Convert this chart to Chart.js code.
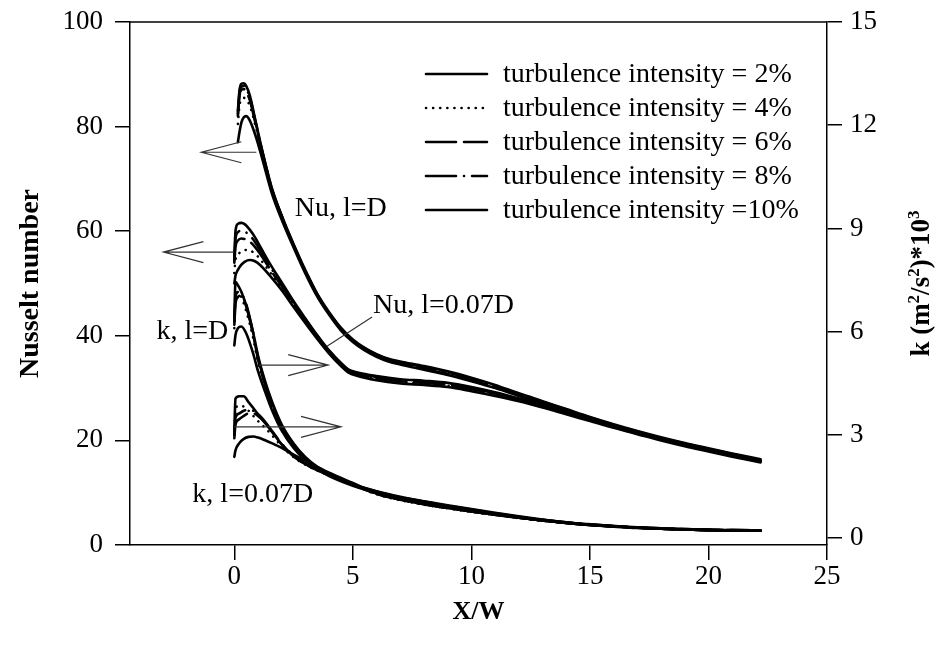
<!DOCTYPE html>
<html>
<head>
<meta charset="utf-8">
<script src="https://cdn.jsdelivr.net/npm/chart.js@4/dist/chart.umd.min.js"></script>
<style>
  html, body { margin: 0; padding: 0; background: #fff; }
  #wrap { width: 939px; height: 646px; }
</style>
</head>
<body>
<div id="wrap"><canvas id="c" width="939" height="646"></canvas></div>
<script>
// Turbulence intensities (one line style each)
const intensities = ['2%', '4%', '6%', '8%', '10%'];

// Nusselt number, l = D
const xNuD = [0.15, 0.22, 0.3, 0.4, 0.5, 0.65, 0.9, 1.2, 1.6, 2.0, 2.5, 3.0, 3.5, 4.0, 4.5, 5.0, 5.5, 6.0, 6.5, 7.0, 8.0, 9.0, 10, 11, 12, 13, 14, 15, 16, 17, 18, 19, 20, 21, 22.2];
const nuD2  = [77.0, 79.0, 80.8, 81.8, 82.0, 81.2, 78.2, 73.5, 67.0, 62.2, 56.9, 51.9, 47.5, 44.0, 41.0, 38.8, 37.2, 36.0, 35.1, 34.5, 33.5, 32.5, 31.3, 30.0, 28.5, 27.0, 25.6, 24.1, 22.7, 21.4, 20.2, 19.1, 18.1, 17.1, 16.0];
const nuD4  = [80.5, 84.0, 85.2, 85.5, 85.2, 84.0, 80.0, 74.4, 67.6, 62.6, 57.2, 52.2, 47.7, 44.2, 41.2, 39.0, 37.4, 36.2, 35.3, 34.7, 33.6, 32.6, 31.4, 30.1, 28.6, 27.1, 25.7, 24.2, 22.8, 21.5, 20.3, 19.2, 18.2, 17.2, 16.1];
const nuD6  = [82.0, 86.0, 87.0, 87.2, 86.7, 85.1, 80.5, 74.7, 67.8, 62.8, 57.3, 52.3, 47.8, 44.3, 41.3, 39.1, 37.5, 36.3, 35.4, 34.8, 33.7, 32.7, 31.5, 30.2, 28.7, 27.2, 25.8, 24.3, 22.9, 21.6, 20.4, 19.3, 18.3, 17.3, 16.2];
const nuD8  = [82.5, 86.5, 87.6, 87.8, 87.3, 85.6, 80.8, 74.9, 67.9, 62.9, 57.4, 52.4, 47.9, 44.4, 41.4, 39.2, 37.6, 36.4, 35.5, 35.0, 34.0, 33.0, 31.8, 30.4, 28.9, 27.4, 25.9, 24.4, 23.0, 21.7, 20.5, 19.4, 18.4, 17.4, 16.3];
const nuD10 = [83.0, 87.0, 88.2, 88.3, 87.8, 86.0, 81.0, 75.0, 68.0, 63.0, 57.5, 52.5, 48.0, 44.5, 41.5, 39.3, 37.7, 36.5, 35.6, 35.1, 34.2, 33.2, 32.0, 30.6, 29.0, 27.5, 26.0, 24.5, 23.1, 21.8, 20.6, 19.5, 18.5, 17.5, 16.4];

// Nusselt number, l = 0.07D
const xNu007 = [0, 0.05, 0.15, 0.3, 0.45, 0.65, 0.85, 1.1, 1.5, 2.0, 2.5, 3.0, 3.5, 4.0, 4.5, 4.8, 5.2, 6.0, 7.0, 8.0, 9.0, 10, 11, 12, 13, 14, 15, 16, 17, 18, 19, 20, 21, 22.2];
const nu007_2  = [50.0, 51.5, 52.6, 53.6, 54.2, 54.5, 54.3, 53.5, 51.5, 48.7, 45.5, 42.4, 39.4, 36.6, 34.2, 33.0, 32.3, 31.5, 30.9, 30.6, 30.2, 29.4, 28.5, 27.5, 26.3, 25.0, 23.7, 22.4, 21.2, 20.0, 18.9, 17.9, 16.9, 15.8];
const nu007_4  = [52.0, 54.5, 55.5, 56.1, 56.4, 56.3, 55.8, 54.6, 52.2, 49.1, 45.8, 42.7, 39.6, 36.8, 34.4, 33.2, 32.5, 31.7, 31.1, 30.8, 30.4, 29.6, 28.7, 27.6, 26.4, 25.1, 23.8, 22.5, 21.3, 20.1, 19.0, 18.0, 17.0, 15.9];
const nu007_6  = [54.0, 57.0, 58.2, 58.6, 58.5, 58.0, 57.1, 55.6, 52.8, 49.5, 46.1, 42.9, 39.8, 37.0, 34.6, 33.4, 32.7, 31.9, 31.3, 31.0, 30.6, 29.8, 28.9, 27.8, 26.5, 25.2, 23.9, 22.6, 21.4, 20.2, 19.1, 18.1, 17.1, 16.0];
const nu007_8  = [54.5, 58.5, 59.8, 60.1, 59.9, 59.2, 58.1, 56.3, 53.3, 49.9, 46.4, 43.1, 40.0, 37.1, 34.7, 33.5, 32.9, 32.1, 31.5, 31.2, 30.8, 30.0, 29.0, 27.9, 26.6, 25.3, 24.0, 22.7, 21.5, 20.3, 19.2, 18.2, 17.2, 16.1];
const nu007_10 = [55.0, 60.0, 61.4, 61.6, 61.3, 60.3, 59.0, 57.0, 53.8, 50.2, 46.6, 43.3, 40.1, 37.2, 34.8, 33.6, 33.0, 32.3, 31.7, 31.4, 31.0, 30.2, 29.2, 28.0, 26.7, 25.4, 24.1, 22.8, 21.6, 20.4, 19.3, 18.3, 17.3, 16.2];

// Turbulent kinetic energy k (x10^3), l = D
const xKD = [0, 0.05, 0.15, 0.3, 0.5, 0.8, 1.0, 1.3, 1.6, 2.0, 2.5, 3.0, 3.5, 4.0, 5.0, 6.0, 7.0, 8.0, 9.0, 10, 11, 12, 13, 14, 15, 16, 17, 18, 19, 20, 21, 22.2];
const kD2  = [5.6, 5.9, 6.1, 6.15, 5.95, 5.35, 4.85, 4.25, 3.7, 3.12, 2.62, 2.26, 2.0, 1.8, 1.52, 1.31, 1.15, 1.02, 0.9, 0.8, 0.69, 0.6, 0.51, 0.44, 0.38, 0.33, 0.29, 0.27, 0.25, 0.23, 0.22, 0.21];
const kD4  = [6.1, 6.9, 7.15, 7.0, 6.6, 5.8, 5.1, 4.4, 3.8, 3.2, 2.68, 2.3, 2.03, 1.83, 1.54, 1.33, 1.17, 1.04, 0.92, 0.81, 0.7, 0.61, 0.52, 0.45, 0.39, 0.34, 0.3, 0.27, 0.25, 0.23, 0.22, 0.21];
const kD6  = [6.2, 6.8, 7.0, 7.05, 6.75, 5.9, 5.2, 4.45, 3.85, 3.24, 2.71, 2.32, 2.05, 1.84, 1.55, 1.34, 1.18, 1.05, 0.93, 0.82, 0.71, 0.61, 0.53, 0.45, 0.39, 0.34, 0.3, 0.27, 0.25, 0.24, 0.23, 0.22];
const kD8  = [6.3, 7.0, 7.15, 7.1, 6.8, 5.95, 5.25, 4.5, 3.9, 3.27, 2.73, 2.33, 2.06, 1.85, 1.56, 1.35, 1.19, 1.06, 0.94, 0.83, 0.72, 0.62, 0.53, 0.46, 0.4, 0.35, 0.31, 0.28, 0.26, 0.24, 0.23, 0.22];
const kD10 = [6.4, 7.45, 7.35, 7.15, 6.75, 5.95, 5.3, 4.55, 3.95, 3.3, 2.75, 2.35, 2.07, 1.86, 1.57, 1.36, 1.2, 1.07, 0.95, 0.84, 0.73, 0.63, 0.54, 0.46, 0.4, 0.35, 0.31, 0.28, 0.26, 0.24, 0.23, 0.22];

// Turbulent kinetic energy k (x10^3), l = 0.07D
const xK007 = [0, 0.05, 0.2, 0.4, 0.6, 0.8, 1.0, 1.3, 1.6, 2.0, 2.5, 3.0, 3.5, 4.0, 5.0, 6.0, 7.0, 8.0, 9.0, 10, 11, 12, 13, 14, 15, 16, 17, 18, 19, 20, 21, 22.2];
const k007_2  = [2.36, 2.55, 2.75, 2.88, 2.94, 2.95, 2.92, 2.84, 2.75, 2.62, 2.42, 2.25, 2.07, 1.9, 1.6, 1.3, 1.12, 0.98, 0.87, 0.77, 0.68, 0.59, 0.51, 0.44, 0.38, 0.34, 0.3, 0.27, 0.25, 0.23, 0.22, 0.21];
const k007_4  = [3.0, 3.75, 3.85, 3.82, 3.7, 3.55, 3.4, 3.2, 2.98, 2.67, 2.35, 2.13, 1.96, 1.82, 1.55, 1.27, 1.1, 0.97, 0.86, 0.76, 0.67, 0.58, 0.5, 0.44, 0.38, 0.34, 0.3, 0.27, 0.25, 0.23, 0.22, 0.21];
const k007_6  = [2.9, 3.3, 3.45, 3.55, 3.62, 3.62, 3.55, 3.35, 3.08, 2.72, 2.38, 2.15, 1.97, 1.83, 1.56, 1.28, 1.11, 0.98, 0.87, 0.77, 0.68, 0.59, 0.51, 0.44, 0.38, 0.34, 0.3, 0.27, 0.25, 0.23, 0.22, 0.21];
const k007_8  = [3.0, 3.5, 3.62, 3.7, 3.72, 3.7, 3.6, 3.38, 3.1, 2.74, 2.4, 2.16, 1.98, 1.84, 1.57, 1.29, 1.12, 0.99, 0.88, 0.78, 0.68, 0.59, 0.51, 0.44, 0.38, 0.34, 0.3, 0.27, 0.25, 0.23, 0.22, 0.21];
const k007_10 = [3.1, 4.05, 4.12, 4.12, 3.95, 3.78, 3.6, 3.35, 3.08, 2.72, 2.38, 2.15, 1.98, 1.84, 1.58, 1.3, 1.13, 1.0, 0.88, 0.78, 0.68, 0.59, 0.51, 0.44, 0.38, 0.34, 0.3, 0.27, 0.25, 0.23, 0.22, 0.21];

// Axis ticks
const xTicks = [0, 5, 10, 15, 20, 25];
const nuTicks = [0, 20, 40, 60, 80, 100];
const kTicks = [0, 3, 6, 9, 12, 15];

// Curve labels (x, Nu-axis position) and the arrows pointing to their axis
const curveLabels = [
  { text: 'Nu, l=D', x: 2.55, y: 64.4 },
  { text: 'Nu, l=0.07D', x: 5.85, y: 45.7 },
  { text: 'k, l=D', x: -3.28, y: 40.7 },
  { text: 'k, l=0.07D', x: -1.77, y: 9.6 }
];
const arrows = [
  { from: [0.93, 75.1], to: [-1.39, 75.1] },
  { from: [-0.04, 56.0], to: [-2.99, 56.0] },
  { from: [1.05, 34.4], to: [3.96, 34.4] },
  { from: [0.0, 22.6], to: [4.5, 22.6] }
];
const pointer = { from: [5.81, 43.6], to: [3.91, 38.0] };

// ---- styling ----
const SERIF = "'Liberation Serif', 'Times New Roman', serif";
const dashes = [[], [0.1, 7], [30, 8], [30, 8, 0.1, 8], []];

function series(xs, ys) {
  return xs.map((x, i) => ({ x: x, y: ys[i] }));
}

const groups = [
  { axis: 'y',  xs: xNuD,   list: [nuD2, nuD4, nuD6, nuD8, nuD10], name: 'Nu, l=D' },
  { axis: 'y',  xs: xNu007, list: [nu007_2, nu007_4, nu007_6, nu007_8, nu007_10], name: 'Nu, l=0.07D' },
  { axis: 'y2', xs: xKD,    list: [kD2, kD4, kD6, kD8, kD10], name: 'k, l=D' },
  { axis: 'y2', xs: xK007,  list: [k007_2, k007_4, k007_6, k007_8, k007_10], name: 'k, l=0.07D' }
];

const datasets = [];
groups.forEach(g => {
  g.list.forEach((ys, i) => {
    datasets.push({
      label: g.name + ' ' + intensities[i],
      data: series(g.xs, ys),
      yAxisID: g.axis,
      borderColor: '#000',
      borderWidth: 2.6,
      borderDash: dashes[i],
      borderCapStyle: 'round',
      borderJoinStyle: 'round',
      pointRadius: 0,
      fill: false,
      cubicInterpolationMode: 'monotone'
    });
  });
});

function drawArrow(ctx, x0, y0, x1, y1, len, half) {
  const ang = Math.atan2(y1 - y0, x1 - x0);
  const bx = x1 - len * Math.cos(ang), by = y1 - len * Math.sin(ang);
  const nx = -Math.sin(ang) * half, ny = Math.cos(ang) * half;
  ctx.beginPath();
  ctx.moveTo(x0, y0); ctx.lineTo(x1, y1);
  ctx.moveTo(bx + nx, by + ny); ctx.lineTo(x1, y1); ctx.lineTo(bx - nx, by - ny);
  ctx.stroke();
}

const decorations = {
  id: 'decorations',
  afterDraw(chart) {
    const { ctx, chartArea: a, scales: { x, y } } = chart;
    const px = v => x.getPixelForValue(v);
    const py = v => y.getPixelForValue(v);
    ctx.save();

    // top edge of the frame
    ctx.strokeStyle = '#000';
    ctx.lineWidth = 1.5;
    ctx.beginPath();
    ctx.moveTo(a.left, a.top); ctx.lineTo(a.right, a.top);
    ctx.stroke();

    // arrows and pointer
    ctx.strokeStyle = '#333';
    ctx.lineWidth = 1.2;
    arrows.forEach(ar => {
      drawArrow(ctx, px(ar.from[0]), py(ar.from[1]), px(ar.to[0]), py(ar.to[1]), 40, 10.5);
    });
    ctx.beginPath();
    ctx.moveTo(px(pointer.from[0]), py(pointer.from[1]));
    ctx.lineTo(px(pointer.to[0]), py(pointer.to[1]));
    ctx.stroke();

    // curve labels
    ctx.fillStyle = '#000';
    ctx.font = '28px ' + SERIF;
    ctx.textAlign = 'left';
    ctx.textBaseline = 'middle';
    curveLabels.forEach(l => ctx.fillText(l.text, px(l.x), py(l.y)));

    // legend
    const legendTexts = intensities.map(t => 'turbulence intensity =' + (t.length < 3 ? ' ' : '') + t);
    ctx.font = '28px ' + SERIF;
    legendTexts.forEach((t, i) => {
      const ly = 74 + i * 34;
      ctx.save();
      ctx.strokeStyle = '#000';
      ctx.lineWidth = 2.6;
      ctx.lineCap = 'round';
      ctx.setLineDash(dashes[i]);
      ctx.beginPath();
      ctx.moveTo(426, ly); ctx.lineTo(487, ly);
      ctx.stroke();
      ctx.restore();
      ctx.fillText(t, 503, ly + 1);
    });

    // right axis title, read bottom to top, with superscripts
    const parts = [['k (m', false], ['2', true], ['/s', false], ['2', true], [')*10', false], ['3', true]];
    const big = 'bold 27px ' + SERIF, small = 'bold 17px ' + SERIF;
    let total = 0;
    parts.forEach(p => { ctx.font = p[1] ? small : big; total += ctx.measureText(p[0]).width; });
    ctx.translate(920, (a.top + a.bottom) / 2);
    ctx.rotate(-Math.PI / 2);
    ctx.textBaseline = 'alphabetic';
    let cx = -total / 2;
    parts.forEach(p => {
      ctx.font = p[1] ? small : big;
      ctx.fillText(p[0], cx, p[1] ? -1 : 9);
      cx += ctx.measureText(p[0]).width;
    });
    ctx.restore();
  }
};

const tickFont = { family: SERIF, size: 27 };

// keep the frame fixed: axis boxes get set sizes and no extra label padding
function fixVertical(width) {
  return s => { s.width = width; s.paddingTop = 0; s.paddingBottom = 0; };
}

new Chart(document.getElementById('c'), {
  type: 'line',
  data: { datasets: datasets },
  options: {
    responsive: false,
    animation: false,
    devicePixelRatio: 1,
    layout: { padding: { top: 22, left: 0, right: 0, bottom: 0 } },
    plugins: { legend: { display: false }, tooltip: { enabled: false } },
    scales: {
      x: {
        type: 'linear',
        position: 'bottom',
        min: -4.4,
        max: 25,
        afterFit: s => { s.height = 101; s.paddingLeft = 0; s.paddingRight = 0; },
        afterBuildTicks: s => { s.ticks = xTicks.map(v => ({ value: v })); },
        ticks: { font: tickFont, color: '#000', padding: 1 },
        grid: { drawOnChartArea: false, drawTicks: true, tickLength: 15, color: '#000', lineWidth: 1.5 },
        border: { display: true, color: '#000', width: 1.5 },
        title: { display: true, text: 'X/W', font: { family: SERIF, size: 26, weight: 'bold' }, color: '#000', padding: { top: 0, bottom: 18 } }
      },
      y: {
        type: 'linear',
        position: 'left',
        min: 0,
        max: 100,
        afterFit: fixVertical(130),
        afterBuildTicks: s => { s.ticks = nuTicks.map(v => ({ value: v })); },
        ticks: { font: tickFont, color: '#000', padding: 12 },
        grid: { drawOnChartArea: false, drawTicks: true, tickLength: 15, color: '#000', lineWidth: 1.5 },
        border: { display: true, color: '#000', width: 1.5 },
        title: { display: true, text: 'Nusselt number', font: { family: SERIF, size: 28, weight: 'bold' }, color: '#000', padding: { top: 14, bottom: 0 } }
      },
      y2: {
        type: 'linear',
        position: 'right',
        // the k axis runs from just below the frame's bottom edge
        min: -0.203,
        max: 15,
        afterFit: fixVertical(112),
        afterBuildTicks: s => { s.ticks = kTicks.map(v => ({ value: v })); },
        ticks: { font: tickFont, color: '#000', padding: 8 },
        grid: { drawOnChartArea: false, drawTicks: true, tickLength: 15, color: '#000', lineWidth: 1.5 },
        border: { display: true, color: '#000', width: 1.5 }
      }
    }
  },
  plugins: [decorations]
});
</script>
</body>
</html>
